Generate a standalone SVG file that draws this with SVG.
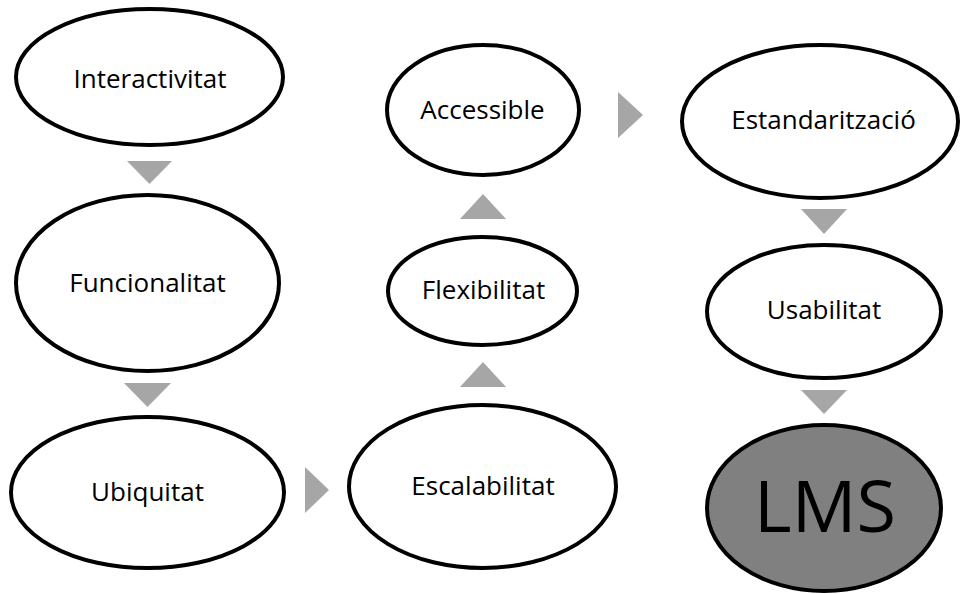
<svg xmlns="http://www.w3.org/2000/svg" width="962" height="594" viewBox="0 0 962 594">
  <style>
    .node { fill: #ffffff; stroke: #000000; stroke-width: 4; }
    .final { fill: #808080; stroke: #000000; stroke-width: 4; }
    .label { font-family: "Open Sans", "Liberation Sans", sans-serif; font-size: 26px; fill: #000000; text-anchor: middle; }
    .big { font-family: "Open Sans", "Liberation Sans", sans-serif; font-size: 72px; fill: #000000; text-anchor: middle; }
    .arrow { fill: #a6a6a6; stroke: none; }
  </style>
  <rect width="962" height="594" fill="#ffffff"/>

  <!-- connectors: solid gray triangles between nodes -->
  <g id="connectors">
    <polygon class="arrow" points="127,161 172,161 149.5,184"/>
    <polygon class="arrow" points="124,383 171,383 147.5,407"/>
    <polygon class="arrow" points="305,467 305,513 329,490"/>
    <polygon class="arrow" points="460,387 506,387 483,362"/>
    <polygon class="arrow" points="460,219 506,219 483,194"/>
    <polygon class="arrow" points="618,92 618,138 643,115"/>
    <polygon class="arrow" points="801,209 847,209 824,234"/>
    <polygon class="arrow" points="801,390 847,390 824,414"/>
  </g>

  <g id="interactivitat">
    <ellipse class="node" cx="149.5" cy="77" rx="133.5" ry="68"/>
    <text class="label" x="150" y="88">Interactivitat</text>
  </g>
  <g id="funcionalitat">
    <ellipse class="node" cx="147.5" cy="283" rx="131.5" ry="88"/>
    <text class="label" x="147.5" y="292">Funcionalitat</text>
  </g>
  <g id="ubiquitat">
    <ellipse class="node" cx="147.5" cy="492.5" rx="136.5" ry="75.5"/>
    <text class="label" x="147.5" y="501">Ubiquitat</text>
  </g>
  <g id="escalabilitat">
    <ellipse class="node" cx="482.5" cy="486.5" rx="133.5" ry="81.5"/>
    <text class="label" x="483" y="495">Escalabilitat</text>
  </g>
  <g id="flexibilitat">
    <ellipse class="node" cx="482.5" cy="291" rx="94.5" ry="54"/>
    <text class="label" x="483.5" y="299">Flexibilitat</text>
  </g>
  <g id="accessible">
    <ellipse class="node" cx="483" cy="110" rx="96" ry="65"/>
    <text class="label" x="482.5" y="119">Accessible</text>
  </g>
  <g id="estandaritzacio">
    <ellipse class="node" cx="820" cy="121.5" rx="138" ry="76.5"/>
    <text class="label" x="823.5" y="129">Estandarització</text>
  </g>
  <g id="usabilitat">
    <ellipse class="node" cx="824" cy="311.5" rx="117" ry="66.5"/>
    <text class="label" x="824" y="319">Usabilitat</text>
  </g>
  <g id="lms">
    <ellipse class="final" cx="824" cy="508" rx="117" ry="83"/>
    <text class="big" x="825" y="532">LMS</text>
  </g>
</svg>
